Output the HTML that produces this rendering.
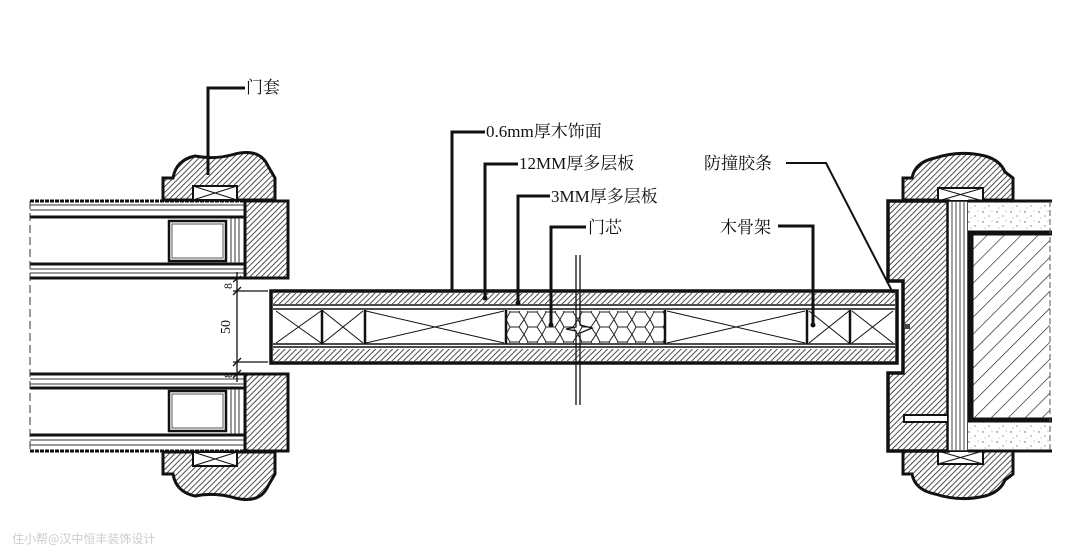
<!DOCTYPE html>
<html><head><meta charset="utf-8"><style>
html,body{margin:0;padding:0;background:#fff;width:1080px;height:560px;overflow:hidden}
svg{display:block}
text{font-family:"Liberation Serif","Noto Serif CJK SC","Noto Sans CJK SC",serif;fill:#111}
</style></head><body>
<svg width="1080" height="560" viewBox="0 0 1080 560" xmlns="http://www.w3.org/2000/svg">
<defs>
<pattern id="h" width="4" height="4" patternUnits="userSpaceOnUse" patternTransform="rotate(45)">
<rect width="4" height="4" fill="#fff"/><line x1="0" y1="0" x2="0" y2="4" stroke="#222" stroke-width="1.6"/></pattern>
<pattern id="hw" width="12" height="12" patternUnits="userSpaceOnUse" patternTransform="rotate(45)">
<rect width="12" height="12" fill="#fff"/><line x1="0" y1="0" x2="0" y2="12" stroke="#222" stroke-width="1.3"/></pattern>
<pattern id="sand" width="14" height="10" patternUnits="userSpaceOnUse">
<rect width="14" height="10" fill="#fff"/><circle cx="3" cy="2" r="0.7" fill="#555"/><circle cx="9" cy="6" r="0.6" fill="#555"/><circle cx="12" cy="1" r="0.5" fill="#777"/><circle cx="5" cy="8" r="0.5" fill="#777"/></pattern>
<pattern id="hex" width="18" height="15" patternUnits="userSpaceOnUse" x="506" y="312">
<rect width="18" height="15" fill="#fff"/>
<path d="M0,7.5 L4,0 L13,0 L18,7.5 L13,15 L4,15 Z" fill="none" stroke="#222" stroke-width="1"/></pattern>
</defs>

<g>
<line x1="30" y1="201" x2="245" y2="201" stroke="#111" stroke-width="3" stroke-dasharray="4,1"/>
<line x1="30" y1="205" x2="245" y2="205" stroke="#333" stroke-width="1"/>
<line x1="30" y1="210" x2="245" y2="210" stroke="#333" stroke-width="1"/>
<line x1="30" y1="217" x2="245" y2="217" stroke="#111" stroke-width="3"/>
<line x1="30" y1="264" x2="245" y2="264" stroke="#111" stroke-width="3"/>
<line x1="30" y1="269" x2="245" y2="269" stroke="#333" stroke-width="1"/>
<line x1="30" y1="273" x2="245" y2="273" stroke="#333" stroke-width="1"/>
<line x1="30" y1="278" x2="245" y2="278" stroke="#111" stroke-width="3"/>
<rect x="169" y="221" width="57" height="40" fill="#fff" stroke="#111" stroke-width="2.5"/>
<rect x="172" y="224" width="51" height="34" fill="none" stroke="#555" stroke-width="1"/>
<line x1="231" y1="218" x2="231" y2="263" stroke="#333"/><line x1="235" y1="218" x2="235" y2="263" stroke="#333"/><line x1="239" y1="218" x2="239" y2="263" stroke="#333"/>
<rect x="245" y="201" width="43" height="77" fill="url(#h)" stroke="#111" stroke-width="3"/>
<path d="M163,200 L163,178 L173,178 Q176,160 195,156 Q215,160 235,154 Q260,148 268,166 L275,178 L275,200 Z" fill="url(#h)" stroke="#111" stroke-width="3"/>
<rect x="193" y="186" width="44" height="14" fill="#fff" stroke="#111" stroke-width="2"/>
<path d="M193,186 L237,200 M193,200 L237,186" stroke="#111" stroke-width="1"/>
<line x1="30" y1="374" x2="245" y2="374" stroke="#111" stroke-width="3"/>
<line x1="30" y1="379" x2="245" y2="379" stroke="#333" stroke-width="1"/>
<line x1="30" y1="384" x2="245" y2="384" stroke="#333" stroke-width="1"/>
<line x1="30" y1="388" x2="245" y2="388" stroke="#111" stroke-width="3"/>
<line x1="30" y1="435" x2="245" y2="435" stroke="#111" stroke-width="3"/>
<line x1="30" y1="440" x2="245" y2="440" stroke="#333" stroke-width="1"/>
<line x1="30" y1="445" x2="245" y2="445" stroke="#333" stroke-width="1"/>
<line x1="30" y1="451" x2="245" y2="451" stroke="#111" stroke-width="3" stroke-dasharray="4,1"/>
<rect x="169" y="391" width="57" height="40" fill="#fff" stroke="#111" stroke-width="2.5"/>
<rect x="172" y="394" width="51" height="34" fill="none" stroke="#555" stroke-width="1"/>
<line x1="231" y1="389" x2="231" y2="434" stroke="#333"/><line x1="235" y1="389" x2="235" y2="434" stroke="#333"/><line x1="239" y1="389" x2="239" y2="434" stroke="#333"/>
<rect x="245" y="374" width="43" height="77" fill="url(#h)" stroke="#111" stroke-width="3"/>
<path d="M163,452 L163,474 L173,474 Q176,492 195,496 Q215,492 235,498 Q260,504 268,486 L275,474 L275,452 Z" fill="url(#h)" stroke="#111" stroke-width="3"/>
<rect x="193" y="452" width="44" height="14" fill="#fff" stroke="#111" stroke-width="2"/>
<path d="M193,452 L237,466 M193,466 L237,452" stroke="#111" stroke-width="1"/>
<line x1="30" y1="201" x2="30" y2="451" stroke="#333" stroke-width="1" stroke-dasharray="8,4"/>
<line x1="237" y1="272" x2="237" y2="382" stroke="#111" stroke-width="1.3"/>
<line x1="233" y1="291" x2="268" y2="291" stroke="#111" stroke-width="1.3"/>
<line x1="233" y1="362" x2="268" y2="362" stroke="#111" stroke-width="1.3"/>
<path d="M233,282 L241,276 M233,295 L241,287 M233,366 L241,358 M233,378 L241,370" stroke="#111" stroke-width="1.3"/>
<text transform="translate(232,289) rotate(-90)" font-size="12">8</text>
<text transform="translate(230,334) rotate(-90)" font-size="14">50</text>
<text transform="translate(232,378) rotate(-90)" font-size="12">8</text>
</g>

<g>
<rect x="271" y="291" width="626" height="72" fill="#fff" stroke="#111" stroke-width="3.5"/>
<rect x="273" y="293" width="622" height="11" fill="url(#h)"/>
<line x1="273" y1="305" x2="895" y2="305" stroke="#111" stroke-width="1.5"/>
<line x1="273" y1="309" x2="895" y2="309" stroke="#111" stroke-width="1.5"/>
<line x1="273" y1="344" x2="895" y2="344" stroke="#111" stroke-width="1.5"/>
<line x1="273" y1="347" x2="895" y2="347" stroke="#111" stroke-width="1.5"/>
<rect x="273" y="349" width="622" height="12" fill="url(#h)"/>
<rect x="506" y="311" width="159" height="32" fill="url(#hex)"/>
<g stroke="#111" stroke-width="1">
<path d="M276,311 L321,343 M276,343 L321,311"/>
<path d="M323,311 L363,343 M323,343 L363,311"/>
<path d="M366,311 L504,343 M366,343 L504,311"/>
<path d="M667,311 L805,343 M667,343 L805,311"/>
<path d="M809,311 L849,343 M809,343 L849,311"/>
<path d="M852,311 L893,343 M852,343 L893,311"/>
</g>
<g stroke="#111" stroke-width="2.5">
<line x1="322" y1="310" x2="322" y2="344"/><line x1="365" y1="310" x2="365" y2="344"/>
<line x1="506" y1="310" x2="506" y2="344"/><line x1="665" y1="310" x2="665" y2="344"/>
<line x1="807" y1="310" x2="807" y2="344"/><line x1="850" y1="310" x2="850" y2="344"/>
</g>
<g stroke="#111" stroke-width="1.3" fill="none">
<path d="M576,255 L576,327 L566,329 L576,331 L576,405"/>
<path d="M580,255 L580,325 L592,328 L580,333 L580,405"/>
</g>
</g>

<g>
<path d="M903,200 L903,178 L912,178 Q915,162 935,158 Q960,150 985,156 Q1000,160 1005,172 L1013,178 L1013,200 Z" fill="url(#h)" stroke="#111" stroke-width="3"/>
<rect x="938" y="188" width="45" height="13" fill="#fff" stroke="#111" stroke-width="2"/>
<path d="M938,188 L983,201 M938,201 L983,188" stroke="#111" stroke-width="1"/>
<path d="M903,451 L903,474 L912,474 Q915,490 935,494 Q960,502 985,496 Q1000,492 1005,480 L1013,474 L1013,451 Z" fill="url(#h)" stroke="#111" stroke-width="3"/>
<rect x="938" y="451" width="45" height="13" fill="#fff" stroke="#111" stroke-width="2"/>
<path d="M938,451 L983,464 M938,464 L983,451" stroke="#111" stroke-width="1"/>
<path d="M888,201 L948,201 L948,451 L888,451 L888,373 L903,373 L903,281 L888,281 Z" fill="url(#h)" stroke="#111" stroke-width="3.5"/>
<rect x="904" y="415" width="44" height="7" fill="#fff" stroke="#111" stroke-width="2"/>
<rect x="948" y="201" width="20" height="250" fill="#fff" stroke="#111" stroke-width="1.5"/>
<g stroke="#444" stroke-width="1"><line x1="952" y1="201" x2="952" y2="451"/><line x1="956" y1="201" x2="956" y2="451"/><line x1="960" y1="201" x2="960" y2="451"/><line x1="964" y1="201" x2="964" y2="451"/></g>
<rect x="968" y="201" width="82" height="32" fill="url(#sand)"/>
<rect x="968" y="420" width="82" height="31" fill="url(#sand)"/>
<rect x="971" y="233" width="79" height="187" fill="url(#hw)"/>
<line x1="968" y1="201" x2="1052" y2="201" stroke="#111" stroke-width="3"/>
<line x1="968" y1="451" x2="1052" y2="451" stroke="#111" stroke-width="3"/>
<line x1="968" y1="233" x2="1052" y2="233" stroke="#111" stroke-width="5"/>
<line x1="968" y1="420" x2="1052" y2="420" stroke="#111" stroke-width="5"/>
<line x1="971" y1="233" x2="971" y2="420" stroke="#111" stroke-width="5"/>
<line x1="1050" y1="201" x2="1050" y2="451" stroke="#555" stroke-width="1" stroke-dasharray="6,3"/>
<rect x="905" y="324" width="5" height="5" fill="#444"/>
</g>

<g stroke="#111" stroke-width="3" fill="none">
<path d="M208,175 L208,88 L245,88"/>
<path d="M452,291 L452,132 L485,132"/>
<path d="M485,298 L485,164 L518,164"/>
<path d="M518,303 L518,196 L550,196"/>
<path d="M551,324 L551,227 L586,227"/>
<path d="M778,226 L813,226 L813,324"/>
<path d="M786,163 L826,163 L893,293" stroke-width="2"/>
</g>
<g fill="#111"><circle cx="485" cy="298" r="2.5"/><circle cx="518" cy="303" r="2.5"/><circle cx="551" cy="325" r="2.5"/><circle cx="813" cy="325" r="2.5"/></g>

<g font-size="17">
<text x="246" y="93">门套</text>
<text x="486" y="137">0.6mm厚木饰面</text>
<text x="519" y="169">12MM厚多层板</text>
<text x="551" y="202">3MM厚多层板</text>
<text x="588" y="233">门芯</text>
<text x="720" y="233">木骨架</text>
<text x="704" y="169">防撞胶条</text>
</g>
<text x="12" y="543" font-size="12" style="fill:#ccc;font-family:'Noto Sans CJK SC',sans-serif">住小帮@汉中恒丰装饰设计</text>
</svg>
</body></html>
